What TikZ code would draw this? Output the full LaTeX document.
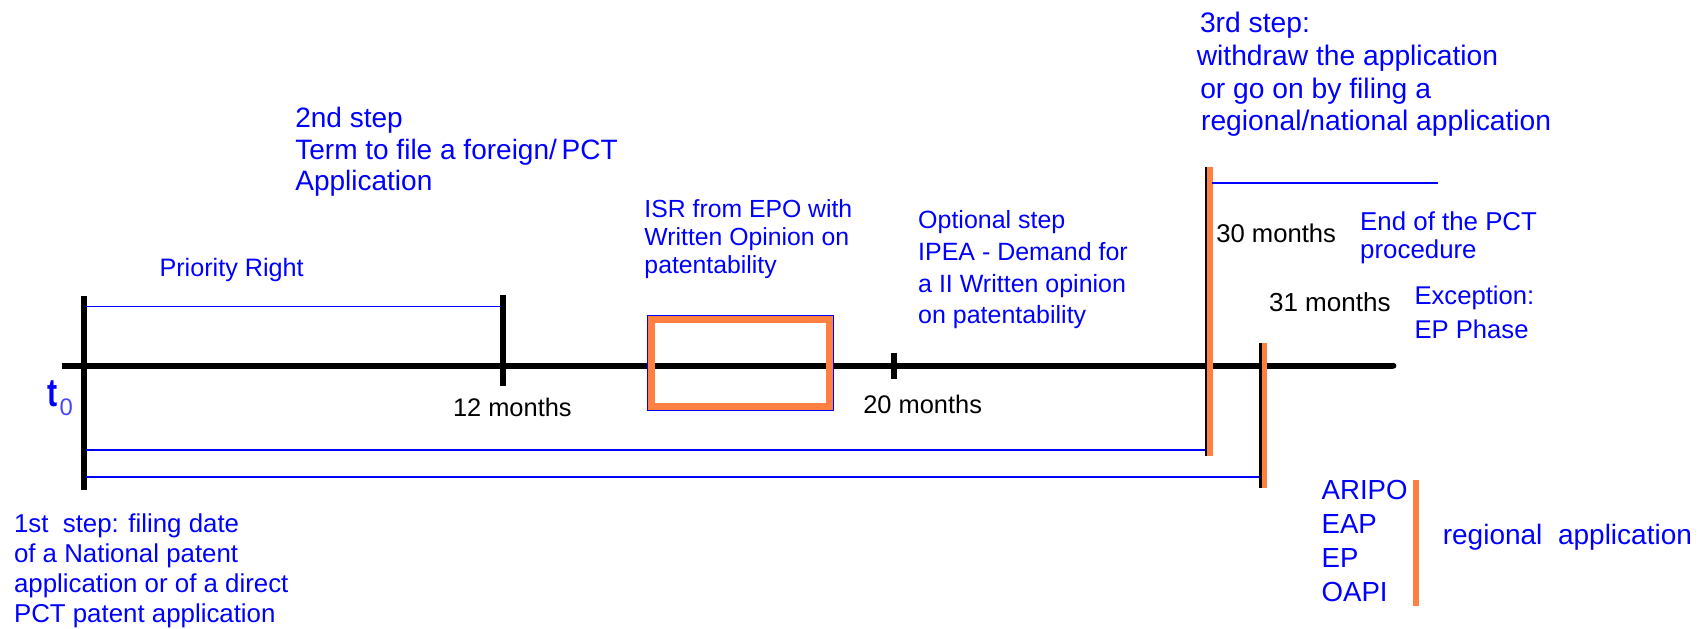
\documentclass[tikz,border=0pt]{standalone}
\usepackage{graphicx}
\usepackage{fontspec}
\setmainfont{Liberation Sans}
\definecolor{txtblue}{RGB}{0,0,255}
\definecolor{subblue}{RGB}{70,70,255}
\definecolor{pctorange}{RGB}{255,128,64}
\begin{document}
\begin{tikzpicture}[x=0.5pt,y=-0.5pt,
  lbl/.style={inner sep=0pt, anchor=north west, align=left, text=txtblue,
    font=\fontsize{12.9}{15}\selectfont},
  mlbl/.style={inner sep=0pt, anchor=base west, text=black,
    font=\fontsize{11.7}{14}\selectfont},
  axisline/.style={line width=2.7pt, black},
  tickline/.style={line width=2.6pt, black},
  spanline/.style={line width=0.8pt, txtblue},
  edgeline/.style={line width=1.1pt, black},
  orangeline/.style={line width=2.5pt, pctorange}]
\useasboundingbox (0,0) rectangle (1568,579);

% time axis
\coordinate (ax0) at (57.5,336.8);
\coordinate (ax1) at (1283,336.8);
\draw[axisline] (ax0) -- (ax1);
\fill (ax1) circle[radius=2.7];

% t0 marker
\coordinate (t0top) at (77.5,272.2);
\coordinate (t0bot) at (77.5,451.2);
\draw[tickline] (t0top) -- (t0bot);
\node[inner sep=0pt, anchor=base west, text=txtblue] (t0) at (43,374.4)
  {\fontsize{14}{14}\selectfont\bfseries\scalebox{1}[1.3]{t}\hspace{1.1pt}\raisebox{-4.3pt}{\mdseries\fontsize{11}{11}\selectfont\color{subblue}0}};

% 12 months
\coordinate (m12top) at (463.4,271.6);
\coordinate (m12bot) at (463.4,355.4);
\draw[tickline] (m12top) -- (m12bot);
\node[mlbl] (m12) at (416.7,383.6) {12 months};

% priority right span
\coordinate (pr0) at (79.3,282.3);
\coordinate (pr1) at (461.6,282.3);
\draw[spanline] (pr0) -- (pr1);
\node[lbl, anchor=base west, font=\fontsize{11.6}{14}\selectfont] (prio) at (146.5,254.7) {Priority Right};

% 2nd step
\node[lbl, font=\fontsize{12.9}{14.6}\selectfont] (step2) at (271.5,98.1)
  {2nd step\\Term to file a foreign/\,PCT\\Application};

% ISR box
\draw[line width=3.25pt, pctorange] (599.7,293.8) rectangle (764,374.7);
\draw[line width=0.5pt, txtblue] (596.4,290.5) rectangle (767.3,378);
\node[lbl, font=\fontsize{11.4}{13}\selectfont] (isr) at (593,183.2)
  {ISR from EPO with\\Written Opinion on\\patentability};

% 20 months
\coordinate (m20top) at (823,325);
\coordinate (m20bot) at (823,349);
\draw[tickline] (m20top) -- (m20bot);
\node[mlbl] (m20) at (794.5,380.6) {20 months};
\node[lbl, font=\fontsize{11.5}{14.6}\selectfont] (opt) at (845,193.5)
  {Optional step\\IPEA - Demand for\\a II Written opinion\\on patentability};

% 30 months
\coordinate (m30top) at (1110.3,153.5);
\coordinate (m30bot) at (1110.3,419.9);
\draw[edgeline] (m30top) -- (m30bot);
\draw[orangeline] ([xshift=1.9pt]m30top) -- ([xshift=1.9pt]m30bot);
\coordinate (e30a) at (1115.6,168.8);
\coordinate (e30b) at (1323.6,168.8);
\draw[spanline] (e30a) -- (e30b);
\node[mlbl, font=\fontsize{11.8}{14}\selectfont] (m30) at (1119.5,223.4) {30 months};
\node[lbl, font=\fontsize{11.9}{13}\selectfont] (endpct) at (1252,194.8)
  {End of the PCT\\procedure};
\node[lbl, font=\fontsize{13}{15.1}\selectfont] (step3) at (1101.5,10.6)
  {\hspace{1.5pt}3rd step:\\withdraw the application\\\hspace{1.6pt}or go on by filing a\\\hspace{2pt}regional/national application};

% 31 months
\coordinate (m31top) at (1160.5,316);
\coordinate (m31bot) at (1160.5,449.6);
\draw[line width=1.5pt, black] (m31top) -- (m31bot);
\draw[line width=2pt, pctorange] ([xshift=1.8pt]m31top) -- ([xshift=1.8pt]m31bot);
\node[mlbl, font=\fontsize{12}{14}\selectfont] (m31) at (1168,287) {31 months};
\node[lbl, font=\fontsize{11.8}{16}\selectfont] (exc) at (1302,262.4) {Exception:\\EP Phase};

% spans from t0 to 30 and 31 months
\coordinate (s30a) at (79.3,414);
\coordinate (s30b) at (1109.2,414);
\draw[spanline] (s30a) -- (s30b);
\coordinate (s31a) at (79.3,439);
\coordinate (s31b) at (1159.5,439);
\draw[spanline] (s31a) -- (s31b);

% 1st step
\node[lbl, font=\fontsize{11.9}{13.8}\selectfont] (step1) at (12.5,473)
  {1st\ \ step: filing date\\of a National patent\\application or of a direct\\PCT patent application};

% regional offices
\node[lbl, font=\fontsize{12.7}{15.6}\selectfont] (offices) at (1216.5,442.1)
  {ARIPO\\EAP\\EP\\OAPI};
\coordinate (rb0) at (1303.7,442);
\coordinate (rb1) at (1303.7,558);
\draw[line width=3pt, pctorange] (rb0) -- (rb1);
\node[lbl, anchor=base west, font=\fontsize{12.9}{15}\selectfont] (regapp) at (1328,501)
  {regional\ \ application};
\end{tikzpicture}
\end{document}
